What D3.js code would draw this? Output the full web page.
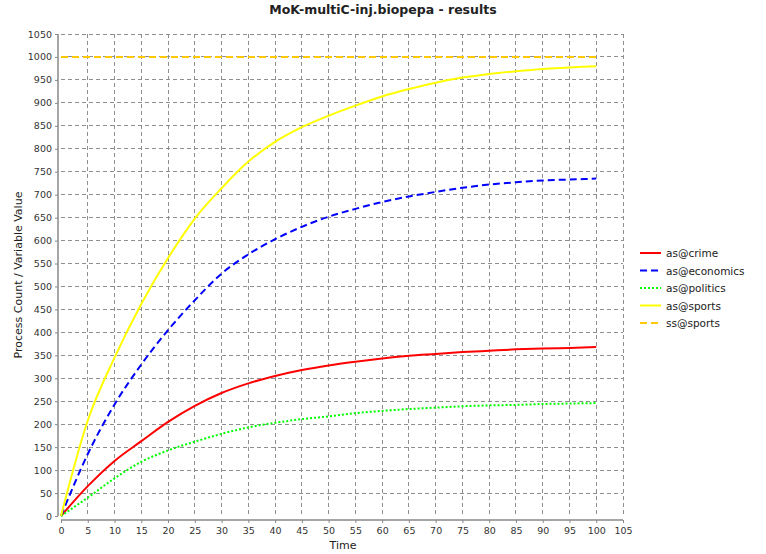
<!DOCTYPE html>
<html>
<head>
<meta charset="utf-8">
<script src="https://cdn.jsdelivr.net/npm/d3@7"></script>
<style>
  html, body { margin: 0; padding: 0; background: #ffffff; }
  svg { display: block; }
</style>
</head>
<body>
<svg id="chart" width="766" height="554"></svg>
<script>
// Simulation output sampled at these time points
const times = [0, 5, 10, 15, 20, 25, 30, 35, 40, 45, 50, 55, 60, 65, 70, 75, 80, 85, 90, 95, 100];

const asCrime     = [0, 65, 120, 163, 205, 240, 268, 289, 305, 318, 328, 336, 343, 349, 353, 357, 360, 363, 365, 366, 368];
const asEconomics = [0, 135, 243, 330, 405, 470, 528, 570, 603, 630, 652, 669, 684, 696, 706, 715, 722, 727, 731, 733, 735];
const asPolitics  = [0, 40, 82, 118, 143, 162, 179, 193, 203, 211, 217, 224, 229, 233, 236, 239, 241, 242, 244, 245, 246];
const asSports    = [0, 208, 345, 462, 562, 648, 714, 772, 815, 847, 872, 894, 914, 930, 944, 955, 963, 969, 974, 977, 980];
const ssSports    = [1000, 1000, 1000, 1000, 1000, 1000, 1000, 1000, 1000, 1000, 1000, 1000, 1000, 1000, 1000, 1000, 1000, 1000, 1000, 1000, 1000];

const seriesNames = ["as@crime", "as@economics", "as@politics", "as@sports", "ss@sports"];
const seriesValues = [asCrime, asEconomics, asPolitics, asSports, ssSports];

const xTicks = d3.range(0, 106, 5);
const yTicks = d3.range(0, 1051, 50);

const titleText = "MoK-multiC-inj.biopepa - results";
const xLabel = "Time";
const yLabel = "Process Count / Variable Value";

// Line appearance per series
const styles = [
  { color: "#ff0000", dash: null },
  { color: "#0000ff", dash: "7,4" },
  { color: "#00ff00", dash: "2,2" },
  { color: "#ffff00", dash: null },
  { color: "#ffc800", dash: "7,4" }
];

const svg = d3.select("#chart");
const font = "'DejaVu Sans', Verdana, sans-serif";

const plot = { left: 61, right: 623, top: 34, bottom: 516 };

const x = d3.scaleLinear().domain([0, 105]).range([plot.left, plot.right]);
const y = d3.scaleLinear().domain([0, 1050]).range([plot.bottom, plot.top]);

// Title
svg.append("text")
  .attr("x", 383).attr("y", 14)
  .attr("text-anchor", "middle")
  .attr("font-family", font)
  .attr("font-weight", "bold")
  .attr("font-size", 12.5)
  .attr("fill", "#222")
  .text(titleText);

// Gridlines
const grid = svg.append("g");
grid.selectAll("line.gx").data(xTicks.filter(d => d > 0)).enter().append("line")
  .attr("x1", d => x(d)).attr("x2", d => x(d))
  .attr("y1", plot.top).attr("y2", plot.bottom)
  .attr("stroke", "#8f8f8f").attr("stroke-width", 1).attr("stroke-dasharray", "4,3")
  .attr("shape-rendering", "crispEdges");
grid.selectAll("line.gy").data(yTicks.filter(d => d > 0)).enter().append("line")
  .attr("x1", plot.left).attr("x2", plot.right)
  .attr("y1", d => y(d)).attr("y2", d => y(d))
  .attr("stroke", "#8f8f8f").attr("stroke-width", 1).attr("stroke-dasharray", "4,3")
  .attr("shape-rendering", "crispEdges");

// Axes, drawn slightly offset from the data area
const xAxis = d3.axisBottom(x).tickValues(xTicks).tickSize(3).tickPadding(4).tickFormat(d3.format("d"));
const yAxis = d3.axisLeft(y).tickValues(yTicks).tickSize(3).tickPadding(3).tickFormat(d3.format("d"));

const gx = svg.append("g").attr("transform", `translate(0,${plot.bottom + 4})`).call(xAxis);
const gy = svg.append("g").attr("transform", `translate(${plot.left - 3},0)`).call(yAxis);

[gx, gy].forEach(g => {
  g.select(".domain").attr("stroke", "#888").attr("stroke-width", 1.5);
  g.selectAll(".tick line").attr("stroke", "#888");
  g.selectAll(".tick text")
    .attr("font-family", font)
    .attr("font-size", 9.5)
    .attr("fill", "#333");
});
gx.select(".domain").attr("d", `M${plot.left},0H${plot.right}`);
gy.select(".domain").attr("d", `M0,${plot.bottom}V${plot.top}`);

// Axis labels
svg.append("text")
  .attr("x", 343).attr("y", 549)
  .attr("text-anchor", "middle")
  .attr("font-family", font).attr("font-size", 11).attr("fill", "#222")
  .text(xLabel);
svg.append("text")
  .attr("transform", `translate(22,${(plot.top + plot.bottom) / 2}) rotate(-90)`)
  .attr("text-anchor", "middle")
  .attr("font-family", font).attr("font-size", 11).attr("fill", "#222")
  .text(yLabel);

// Series lines
const line = d3.line()
  .x(d => x(d[0]))
  .y(d => y(d[1]))
  .curve(d3.curveMonotoneX);

const lines = svg.append("g");
seriesValues.forEach((vals, i) => {
  const pts = times.map((t, k) => [t, vals[k]]);
  lines.append("path")
    .datum(pts)
    .attr("d", line)
    .attr("fill", "none")
    .attr("stroke", styles[i].color)
    .attr("stroke-width", 2)
    .attr("stroke-dasharray", styles[i].dash);
});

// Legend
const legend = svg.append("g").attr("transform", "translate(640,253)");
seriesNames.forEach((name, i) => {
  const g = legend.append("g").attr("transform", `translate(0,${i * 17.5})`);
  g.append("line")
    .attr("x1", 0).attr("x2", 21).attr("y1", 0).attr("y2", 0)
    .attr("stroke", styles[i].color).attr("stroke-width", 2)
    .attr("stroke-dasharray", styles[i].dash);
  g.append("text")
    .attr("x", 26).attr("y", 4)
    .attr("font-family", font).attr("font-size", 10.5).attr("fill", "#222")
    .text(name);
});
</script>
</body>
</html>
